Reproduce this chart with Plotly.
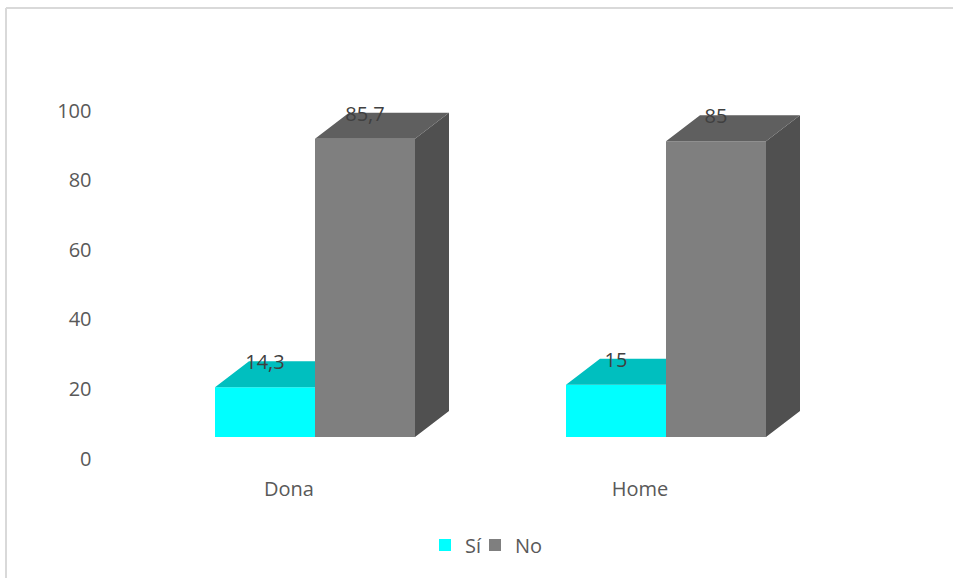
import plotly.graph_objects as go

categories = ["Dona", "Home"]
si_values = [14.3, 15]
no_values = [85.7, 85]
si_labels = ["14,3", "15"]
no_labels = ["85,7", "85"]
y_ticks = [0, 20, 40, 60, 80, 100]

W, H = 953, 578
PX_X = 351.0      # pixels per category
PX_Y = 3.48       # pixels per value unit
BAR_W = 100 / PX_X
DX = 34 / PX_X
DY = 26 / PX_Y
BASE = 21.5 / PX_Y
LABEL_DROP = 3 / PX_Y
SI_LEFT = -74 / PX_X
NO_LEFT = SI_LEFT + BAR_W
FONT = "Open Sans"

xs = list(range(len(categories)))


def faces(values, left):
    top_x, top_y, side_x, side_y = [], [], [], []
    for c, v in zip(xs, values):
        x0, x1 = c + left, c + left + BAR_W
        y0, y1 = BASE, BASE + v
        top_x += [x0, x1, x1 + DX, x0 + DX, x0, None]
        top_y += [y1, y1, y1 + DY, y1 + DY, y1, None]
        side_x += [x1, x1 + DX, x1 + DX, x1, x1, None]
        side_y += [y0, y0 + DY, y1 + DY, y1, y0, None]
    return top_x, top_y, side_x, side_y


def poly(x, y, color, xa, ya):
    return go.Scatter(x=x, y=y, mode="lines", fill="toself", fillcolor=color,
                      line=dict(width=0, color=color), showlegend=False,
                      hoverinfo="skip", xaxis=xa, yaxis=ya)


fig = go.Figure()

# Sí series on the base axes
st_x, st_y, ss_x, ss_y = faces(si_values, SI_LEFT)
fig.add_trace(go.Bar(x=xs, y=si_values, base=[BASE] * len(xs), width=BAR_W, offset=SI_LEFT,
                     name="Sí", legend="legend", marker=dict(color="#00FFFF", line=dict(width=0))))
fig.add_trace(poly(ss_x, ss_y, "#00A0A0", "x", "y"))
fig.add_trace(poly(st_x, st_y, "#00BFBF", "x", "y"))

# No series on an overlay so that it hides the back of Sí
nt_x, nt_y, ns_x, ns_y = faces(no_values, NO_LEFT)
fig.add_trace(go.Bar(x=xs, y=no_values, base=[BASE] * len(xs), width=BAR_W, offset=NO_LEFT,
                     name="No", legend="legend2", marker=dict(color="#7F7F7F", line=dict(width=0)),
                     xaxis="x2", yaxis="y2"))
fig.add_trace(poly(ns_x, ns_y, "#505050", "x2", "y2"))
fig.add_trace(poly(nt_x, nt_y, "#5F5F5F", "x2", "y2"))

# Data labels
label_x, label_y, label_t = [], [], []
for vals, left, labs in ((si_values, SI_LEFT, si_labels), (no_values, NO_LEFT, no_labels)):
    for c, v, t in zip(xs, vals, labs):
        label_x.append(c + left + BAR_W / 2)
        label_y.append(BASE + v + DY - LABEL_DROP)
        label_t.append(t)
fig.add_trace(go.Scatter(x=label_x, y=label_y, text=label_t, mode="text",
                         textposition="middle center", cliponaxis=False,
                         textfont=dict(family=FONT, size=20, color="#404040"),
                         showlegend=False, hoverinfo="skip", xaxis="x2", yaxis="y2"))

x_dom = [113.5 / W, 815.5 / W]
y_dom = [1 - 458.5 / H, 1 - 110.5 / H]
x_rng = [-0.5, 1.5]
y_rng = [0, 100]


def legend_at(px):
    return dict(orientation="h", x=px / W, xanchor="left", y=1 - 545 / H, yanchor="middle",
                font=dict(family=FONT, size=20, color="#595959"),
                itemwidth=30, bgcolor="rgba(0,0,0,0)")


fig.update_layout(
    width=W, height=H, autosize=False,
    margin=dict(l=0, r=0, t=0, b=0, autoexpand=False),
    paper_bgcolor="white", plot_bgcolor="rgba(0,0,0,0)",
    barmode="overlay",
    font=dict(family=FONT, size=20, color="#595959"),
    xaxis=dict(domain=x_dom, range=x_rng, tickmode="array", tickvals=xs, ticktext=categories,
               showgrid=False, zeroline=False, showline=False, ticks="",
               ticklabelstandoff=16, tickfont=dict(family=FONT, size=20, color="#595959")),
    yaxis=dict(domain=y_dom, range=y_rng, tickmode="array", tickvals=y_ticks,
               showgrid=False, zeroline=False, showline=False, ticks="",
               ticklabelstandoff=21, tickfont=dict(family=FONT, size=20, color="#595959")),
    xaxis2=dict(domain=x_dom, range=x_rng, overlaying="x", visible=False),
    yaxis2=dict(domain=y_dom, range=y_rng, overlaying="y", visible=False),
    legend=legend_at(425),
    legend2=legend_at(475),
    shapes=[
        dict(type="line", xref="paper", yref="paper", x0=6 / W, x1=1, y0=1 - 8 / H, y1=1 - 8 / H,
             line=dict(color="#D9D9D9", width=2)),
        dict(type="line", xref="paper", yref="paper", x0=6 / W, x1=6 / W, y0=0, y1=1 - 8 / H,
             line=dict(color="#D9D9D9", width=2)),
    ],
)

fig.write_html("out.html", config={"displayModeBar": False},
               post_script="document.body.style.margin='0';")
